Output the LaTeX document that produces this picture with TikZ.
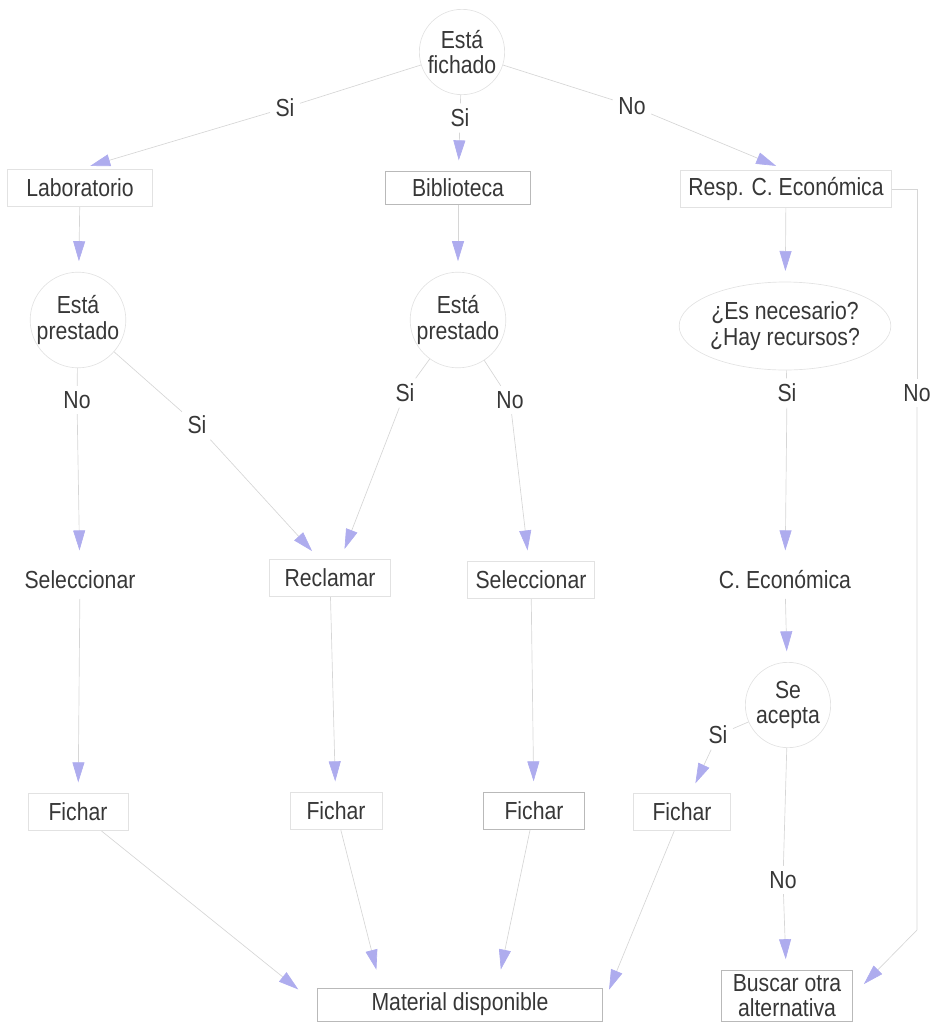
\documentclass[tikz,border=0pt]{standalone}
\usepackage{fontspec}
\setmainfont[FakeStretch=0.86]{Liberation Sans}
\usetikzlibrary{arrows.meta,calc,shapes.geometric}
\definecolor{txtc}{RGB}{55,55,55}
\definecolor{linec}{RGB}{214,214,214}
\definecolor{boxc}{RGB}{185,185,185}
\definecolor{faintc}{RGB}{226,226,226}
\definecolor{arrc}{RGB}{174,172,238}
\newcommand{\dfont}{\fontsize{18.5}{19}\selectfont}
\begin{document}
\begin{tikzpicture}[x=0.75pt,y=-0.75pt,
 txt/.style={font=\dfont,text=txtc,align=center},
 lbl/.style={txt,inner sep=4pt},
 boxn/.style={txt,draw=boxc,line width=0.5pt,minimum height=28pt,inner xsep=6pt},
 fboxn/.style={boxn,draw=faintc},
 plainn/.style={txt,minimum height=28pt,inner xsep=6pt},
 decn/.style={txt,circle,draw=faintc,line width=0.5pt,minimum size=64pt,inner sep=0pt},
 ln/.style={draw=linec,line width=0.5pt},
 arr/.style={ln,-{Triangle[length=15pt,width=9pt,color=arrc]},shorten >=8pt},
]
\useasboundingbox (0,0) rectangle (934,1022);
% nodes
\node[decn] (q0) at (462,52) {Está\\fichado};
\node[lbl] (s1) at (285,108) {Si};
\node[lbl] (n1) at (632,106) {No};
\node[lbl] (s2) at (460,118) {Si};
\node[fboxn,minimum width=109pt] (lab) at (80,188) {Laboratorio};
\node[boxn,minimum width=109pt,minimum height=25pt] (bib) at (458,188) {Biblioteca};
\node[fboxn,minimum width=155pt] (resp) at (786,189) {Resp. C. Económica};
\node[decn] (q1) at (78,320) {Está\\prestado};
\node[decn] (q2) at (458,320) {Está\\prestado};
\node[txt,ellipse,draw=faintc,line width=0.5pt,minimum width=112pt,minimum height=66pt,inner sep=0pt] (q3) at (785,326) {¿Es necesario?\\¿Hay recursos?};
\node[lbl] (n2) at (77,400) {No};
\node[lbl] (s3) at (197,425) {Si};
\node[lbl] (s4) at (405,393) {Si};
\node[lbl] (n3) at (510,400) {No};
\node[lbl] (s5) at (787,393) {Si};
\node[lbl] (n4) at (917,393) {No};
\node[plainn] (sel1) at (80,580) {Seleccionar};
\node[fboxn,minimum width=91pt] (recl) at (330,578) {Reclamar};
\node[fboxn,minimum width=91pt] (sel2) at (531,580) {Seleccionar};
\node[plainn] (ceco) at (785,580) {C. Económica};
\node[decn] (q4) at (788,705) {Se\\acepta};
\node[lbl] (s6) at (718,735) {Si};
\node[fboxn,minimum width=75pt] (f1) at (78,812) {Fichar};
\node[fboxn,minimum width=69pt] (f2) at (336,811) {Fichar};
\node[boxn,minimum width=76pt] (f3) at (534,811) {Fichar};
\node[fboxn,minimum width=73pt] (f4) at (682,812) {Fichar};
\node[lbl] (n5) at (783,880) {No};
\node[boxn,minimum width=98pt,minimum height=38pt,inner ysep=1pt] (busc) at (787,995.5) {Buscar otra\\alternativa};
\node[boxn,minimum width=214pt,minimum height=24.5pt,inner ysep=2pt] (mat) at (460,1004.5) {Material disponible};
\coordinate (bend) at (917,930);
% connectors
\draw[ln] (q0) -- (s1);
\draw[arr] (s1) -- (lab.north);
\draw[ln] (q0) -- (n1);
\draw[arr] (n1) -- (resp.north);
\draw[ln] (q0) -- (s2);
\draw[arr] (s2) -- (bib);
\draw[arr] (lab) -- (q1);
\draw[arr] (bib) -- (q2);
\draw[arr] (resp) -- (q3);
\draw[ln] (q1) -- (n2);
\draw[arr] (n2) -- (sel1);
\draw[ln] (q1) -- (s3);
\draw[arr] (s3) -- ([xshift=-8pt]recl.north);
\draw[ln] (q2) -- (s4);
\draw[arr] (s4) -- ([xshift=8pt]recl.north);
\draw[ln] (q2) -- (n3);
\draw[arr] (n3) -- (sel2);
\draw[ln] (q3) -- (s5);
\draw[arr] (s5) -- (ceco);
\draw[ln] (resp.east) -| (n4);
\draw[arr,shorten >=12pt] (n4) -- (bend) -- (busc.east);
\draw[arr] (sel1) -- (f1);
\draw[arr] (recl) -- (f2);
\draw[arr] (sel2) -- (f3);
\draw[arr] (ceco) -- (q4);
\draw[ln] (q4) -- (s6);
\draw[arr] (s6) -- (f4);
\draw[ln] (q4) -- (n5);
\draw[arr] (n5) -- (busc);
\draw[arr,shorten >=18pt] (f1) -- (mat.west);
\draw[arr,shorten >=14pt] (f2) -- ($(mat.north west)+(64,0)$);
\draw[arr,shorten >=14pt] (f3) -- ($(mat.north west)+(180,0)$);
\draw[arr,shorten >=12pt] (f4) -- (mat.east);
\end{tikzpicture}
\end{document}
